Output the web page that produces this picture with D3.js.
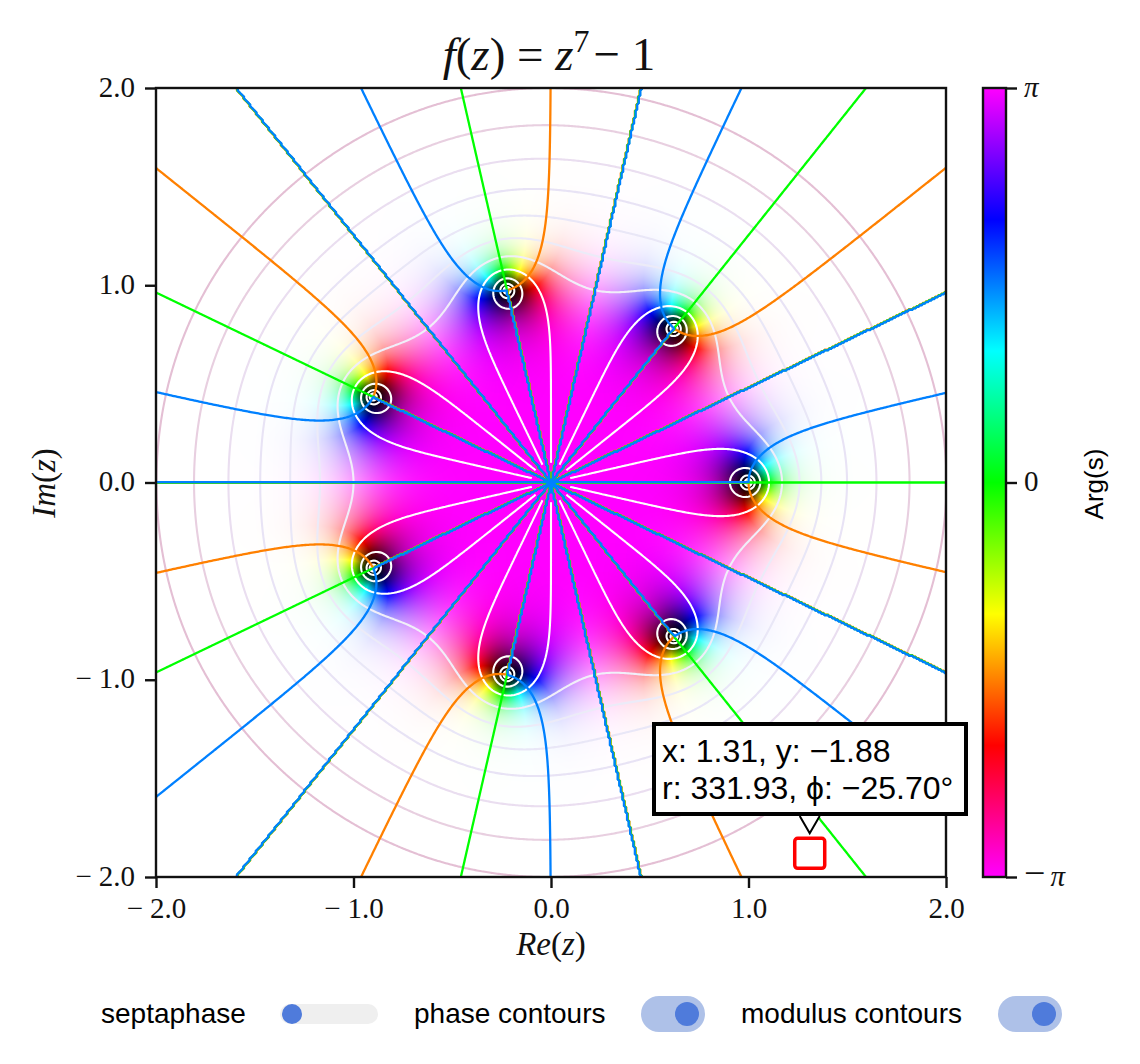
<!DOCTYPE html>
<html>
<head>
<meta charset="utf-8">
<script src="https://cdn.jsdelivr.net/npm/d3@7"></script>
<style>
  html, body { margin: 0; padding: 0; background: #fff; }
  svg { display: block; }
  .math { font-family: "Liberation Serif", serif; fill: #111; }
  .sans { font-family: "Liberation Sans", Arial, sans-serif; fill: #000; }
</style>
</head>
<body>
<svg id="chart" width="1140" height="1064"></svg>
<script>
// the plotted function, as in the title: f(z) = z^7 - 1
var exponent = 7;
var constant = -1;

var xTicks = [-2, -1, 0, 1, 2];
var yTicks = [-2, -1, 0, 1, 2];

// Arg -> colour
var argStops = [-1, -2 / 3, -1 / 3, 0, 1 / 3, 2 / 3, 1];
var argColours = ['#ff00ff', '#ff0000', '#ffff00', '#00ff00', '#00ffff', '#0000ff', '#ff00ff'];
var argTicks = [-1, 0, 1];

// phase contours, in units of pi
var phaseLevels = [-0.5, 0, 0.5];
var phaseColours = ['#ff8000', '#00ff00', '#0080ff'];

// modulus contours, as log2 |f|
var modulusLevels = [-4, -3, -2, -1, 0, 1, 2, 3, 4, 5, 6, 7];
var modulusColours = ['#ffffff', '#ffffff', '#ffffff', '#ffffff', '#ffffff', '#f1eef9', '#ecebf8', '#e9e7f7',
  '#e8e3f5', '#eadef0', '#e8cfe0', '#e4bfd4'];

var toggleNames = ['septaphase', 'phase contours', 'modulus contours'];
var toggleStates = [false, true, true];

var tooltipLines = ['x: 1.31, y: \u22121.88', 'r: 331.93, \u03d5: \u221225.70\u00b0'];
var cursorAt = [1.31, -1.88];

var margin = {left: 156, top: 88, right: 946, bottom: 877};
var svg = d3.select('#chart');

var x = d3.scaleLinear().domain([-2, 2]).range([margin.left, margin.right]);
var y = d3.scaleLinear().domain([-2, 2]).range([margin.bottom, margin.top]);
var argColour = d3.scaleLinear().domain(argStops).range(argColours).interpolate(d3.interpolateRgb);

function evalF(re, im) {
  var a = 1, b = 0;
  for (var k = 0; k < exponent; k++) {
    var t = a * re - b * im;
    b = a * im + b * re;
    a = t;
  }
  return [a + constant, b];
}

// ---- domain colouring: hue from the phase, lightness from the modulus
function drawField() {
  var w = margin.right - margin.left, h = margin.bottom - margin.top;
  var canvas = document.createElement('canvas');
  canvas.width = w;
  canvas.height = h;
  var ctx = canvas.getContext('2d');
  var img = ctx.createImageData(w, h);
  var lut = d3.range(1025).map(function (i) {
    var c = d3.rgb(argColour(i / 512 - 1));
    return [c.r, c.g, c.b];
  });
  for (var j = 0; j < h; j++) {
    var im = y.invert(margin.top + j + 0.5);
    for (var i = 0; i < w; i++) {
      var re = x.invert(margin.left + i + 0.5);
      var f = evalF(re, im);
      var m2 = f[0] * f[0] + f[1] * f[1];
      var light = m2 / (1 + m2);
      var c = lut[Math.round((Math.atan2(f[1], f[0]) / Math.PI + 1) * 512)];
      var o = (j * w + i) * 4;
      for (var k = 0; k < 3; k++) {
        img.data[o + k] = light < 0.5 ? c[k] * 2 * light : c[k] + (255 - c[k]) * (2 * light - 1);
      }
      img.data[o + 3] = 255;
    }
  }
  ctx.putImageData(img, 0, 0);
  svg.append('image')
    .attr('x', margin.left).attr('y', margin.top)
    .attr('width', w).attr('height', h)
    .attr('href', canvas.toDataURL('image/png'));
}

// ---- contours on a grid a little wider than the axes, so its border stays clipped
function drawContours() {
  var n = 520, reach = 2.05;
  var gridX = d3.scaleLinear().domain([0.5, n - 0.5]).range([-reach, reach]);
  var phase = new Float64Array(n * n), modulus = new Float64Array(n * n);
  for (var j = 0; j < n; j++) {
    for (var i = 0; i < n; i++) {
      var f = evalF(gridX(i + 0.5), gridX(j + 0.5));
      phase[j * n + i] = Math.atan2(f[1], f[0]);
      modulus[j * n + i] = Math.log2(Math.hypot(f[0], f[1]));
    }
  }
  var contours = d3.contours().size([n, n]);
  var path = d3.geoPath(d3.geoTransform({
    point: function (a, b) { this.stream.point(x(gridX(a)), y(gridX(b))); }
  }));

  var defs = svg.append('defs');
  defs.append('clipPath').attr('id', 'plotClip').append('rect')
    .attr('x', margin.left).attr('y', margin.top)
    .attr('width', margin.right - margin.left).attr('height', margin.bottom - margin.top);
  // |f| is numerically flat around the origin, the unit contour breaks up there
  var mask = defs.append('mask').attr('id', 'originHole').attr('maskUnits', 'userSpaceOnUse')
    .attr('x', 0).attr('y', 0).attr('width', 1140).attr('height', 1064);
  mask.append('rect').attr('width', 1140).attr('height', 1064).attr('fill', '#fff');
  mask.append('circle').attr('cx', x(0)).attr('cy', y(0)).attr('r', x(0.1) - x(0)).attr('fill', '#000');

  var plot = svg.append('g').attr('clip-path', 'url(#plotClip)');
  plot.append('g').attr('mask', 'url(#originHole)')
    .selectAll('path').data(modulusLevels).enter().append('path')
    .attr('d', function (d) { return path(contours.contour(modulus, d)); })
    .attr('fill', 'none')
    .attr('stroke', function (d, i) { return modulusColours[i]; })
    .attr('stroke-width', 2.1);
  plot.append('g')
    .selectAll('path').data(phaseLevels).enter().append('path')
    .attr('d', function (d) { return path(contours.contour(phase, d * Math.PI)); })
    .attr('fill', 'none')
    .attr('stroke', function (d, i) { return phaseColours[i]; })
    .attr('stroke-width', 2.3);
}

// tick label in the math face, spaced minus
function mathLabel(sel, value) {
  sel.text(null);
  if (value < 0) sel.append('tspan').text('\u2212');
  sel.append('tspan').attr('dx', value < 0 ? 7 : 0).text(d3.format('.1f')(Math.abs(value)));
}

function drawAxes() {
  svg.append('rect')
    .attr('x', margin.left).attr('y', margin.top)
    .attr('width', margin.right - margin.left).attr('height', margin.bottom - margin.top)
    .attr('fill', 'none').attr('stroke', '#111').attr('stroke-width', 2.4);

  var bottom = svg.append('g').attr('transform', 'translate(0,' + margin.bottom + ')')
    .call(d3.axisBottom(x).tickValues(xTicks).tickSize(11).tickSizeOuter(0));
  var left = svg.append('g').attr('transform', 'translate(' + margin.left + ',0)')
    .call(d3.axisLeft(y).tickValues(yTicks).tickSize(11).tickSizeOuter(0));
  [bottom, left].forEach(function (axis) {
    axis.select('.domain').remove();
    axis.selectAll('.tick line').attr('stroke', '#111').attr('stroke-width', 2.4);
    axis.selectAll('.tick text').attr('class', 'math').attr('font-size', 29);
  });
  bottom.selectAll('.tick text').attr('y', 0).attr('dy', 0)
    .attr('transform', 'translate(0,41)')
    .each(function (d) { mathLabel(d3.select(this), d); });
  left.selectAll('.tick text').attr('x', -21).attr('dy', 0)
    .attr('transform', 'translate(0,8)')
    .each(function (d) { mathLabel(d3.select(this), d); });

  var title = svg.append('text').attr('class', 'math')
    .attr('x', 549).attr('y', 70).attr('text-anchor', 'middle').attr('font-size', 47);
  title.append('tspan').attr('font-style', 'italic').text('f');
  title.append('tspan').text('(');
  title.append('tspan').attr('font-style', 'italic').text('z');
  title.append('tspan').text(') = ');
  title.append('tspan').attr('font-style', 'italic').text('z');
  title.append('tspan').attr('font-size', 32).attr('dy', -18).text('7');
  title.append('tspan').attr('dy', 18).attr('dx', 4).text('\u2212 1');

  axisTitle(svg.append('text').attr('x', 551).attr('y', 955), 'Re');
  axisTitle(svg.append('text').attr('transform', 'translate(55,483) rotate(-90)'), 'Im');
}

function axisTitle(sel, name) {
  sel.attr('class', 'math').attr('text-anchor', 'middle').attr('font-size', 33);
  sel.append('tspan').attr('font-style', 'italic').text(name);
  sel.append('tspan').text('(');
  sel.append('tspan').attr('font-style', 'italic').text('z');
  sel.append('tspan').text(')');
}

function drawColourBar() {
  var bar = {left: 983, right: 1006};
  var argY = d3.scaleLinear().domain([-1, 1]).range([margin.bottom, margin.top]);
  var grad = svg.append('defs').append('linearGradient').attr('id', 'argGrad')
    .attr('x1', 0).attr('x2', 0).attr('y1', 1).attr('y2', 0);
  argStops.forEach(function (s, i) {
    grad.append('stop').attr('offset', (s + 1) / 2).attr('stop-color', argColours[i]);
  });
  svg.append('rect')
    .attr('x', bar.left).attr('y', margin.top)
    .attr('width', bar.right - bar.left).attr('height', margin.bottom - margin.top)
    .attr('fill', 'url(#argGrad)').attr('stroke', '#111').attr('stroke-width', 2.4);
  var axis = svg.append('g').attr('transform', 'translate(' + bar.right + ',0)')
    .call(d3.axisRight(argY).tickValues(argTicks).tickSize(11).tickSizeOuter(0));
  axis.select('.domain').remove();
  axis.selectAll('.tick line').attr('stroke', '#111').attr('stroke-width', 2.4);
  axis.selectAll('.tick text').attr('class', 'math').attr('font-size', 29)
    .attr('x', 18).attr('dy', 0).attr('transform', 'translate(0,8)')
    .each(function (d) {
      var t = d3.select(this);
      t.text(null);
      if (d < 0) t.append('tspan').attr('font-size', 38).text('\u2212');
      t.append('tspan').attr('font-style', d === 0 ? 'normal' : 'italic').attr('dx', d < 0 ? 5 : 0)
        .text(d === 0 ? '0' : '\u03c0');
    });
  svg.append('text').attr('class', 'sans')
    .attr('transform', 'translate(1103,484) rotate(-90)')
    .attr('text-anchor', 'middle').attr('font-size', 26).text('Arg(s)');
}

function drawTooltip() {
  var cx = x(cursorAt[0]), cy = y(cursorAt[1]);
  svg.append('rect')
    .attr('x', cx - 15).attr('y', cy - 15).attr('width', 30).attr('height', 30).attr('rx', 3)
    .attr('fill', 'none').attr('stroke', '#ff0000').attr('stroke-width', 3.5);
  svg.append('rect')
    .attr('x', 654).attr('y', 724).attr('width', 312).attr('height', 90)
    .attr('fill', '#fff').attr('stroke', '#000').attr('stroke-width', 4);
  svg.append('path')
    .attr('d', d3.line()([[cx - 10, 816], [cx, cy - 20], [cx + 10, 816]]))
    .attr('fill', '#fff').attr('stroke', '#000').attr('stroke-width', 2);
  svg.append('text').attr('class', 'sans').attr('font-size', 32)
    .selectAll('tspan').data(tooltipLines).enter().append('tspan')
    .attr('x', 662).attr('y', function (d, i) { return 762 + i * 37; })
    .text(function (d) { return d; });
}

function drawToggles() {
  var labelX = [101, 414, 741];
  var trackX = [[280, 378], [641, 705], [998, 1062]];
  var row = 1014;
  toggleNames.forEach(function (name, i) {
    svg.append('text').attr('class', 'sans').attr('x', labelX[i]).attr('y', row + 9)
      .attr('font-size', 28).text(name);
    var on = toggleStates[i], half = on ? 18 : 10;
    svg.append('rect')
      .attr('x', trackX[i][0]).attr('y', row - half)
      .attr('width', trackX[i][1] - trackX[i][0]).attr('height', half * 2).attr('rx', half)
      .attr('fill', on ? '#aec1e8' : '#efefef');
    svg.append('circle')
      .attr('cx', on ? trackX[i][1] - 18 : trackX[i][0] + 12).attr('cy', row)
      .attr('r', on ? 12 : 10).attr('fill', '#4f7bdb');
  });
}

drawField();
drawContours();
drawAxes();
drawColourBar();
drawTooltip();
drawToggles();
</script>
</body>
</html>
